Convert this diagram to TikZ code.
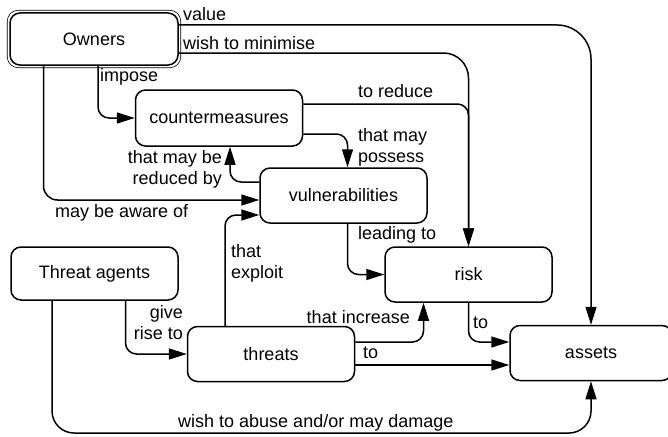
\documentclass[tikz,border=0pt]{standalone}
\usepackage{fontspec}
\setmainfont{Liberation Sans}
\usetikzlibrary{math}
\usetikzlibrary{arrows.meta}
\tikzset{
	box/.style={draw, line width=1.5pt, rounded corners=10pt, minimum width=167pt, minimum height=55pt, inner sep=0pt, font=\fontsize{18}{21}\selectfont},
	lbl/.style={inner sep=0pt, font=\fontsize{18}{21}\selectfont},
	link/.style={line width=1.5pt, rounded corners=11pt, -{Triangle[length=18pt,width=11pt]}},
}

\begin{document}
\begin{tikzpicture}[x=1pt,y=-1pt]
	\useasboundingbox (0,0) rectangle (668,436);
	\tikzmath{\ownx=94; \owny=39;
	\cmx=219; \cmy=118;
	\vulx=343.5; \vuly=195.5;
	\tax=94.5; \tay=273.5;
	\thrx=271; \thry=354;
	\riskx=468.5; \risky=274.5;
	\assx=591; \assy=353;
	}
	\node[box, minimum width=168pt, minimum height=52pt] (owners) at (\ownx,\owny) {Owners};
	\draw[line width=0.6pt, rounded corners=11pt] ([shift={(-2pt,2pt)}]owners.north west) rectangle ([shift={(2pt,-2pt)}]owners.south east);
	\node[box, minimum height=56pt] (cm) at (\cmx,\cmy) {countermeasures};
	\node[box] (vul) at (\vulx,\vuly) {vulnerabilities};
	\node[box, minimum height=53pt] (ta) at (\tax,\tay) {Threat agents};
	\node[box] (thr) at (\thrx,\thry) {threats};
	\node[box] (risk) at (\riskx,\risky) {risk};
	\node[box, minimum width=162pt] (assets) at (\assx,\assy) {assets};
	\coordinate (low) at (320,433);
	\node[lbl, anchor=west] (lvalue) at (183,14) {value};
	\node[lbl, anchor=west] (lmin) at (183,43) {wish to minimise};
	\node[lbl, anchor=west] (limpose) at (100,77) {impose};
	\node[lbl, anchor=west] (lreduce) at (358,91) {to reduce};
	\node[lbl, anchor=west, align=left] (lpossess) at (358,147) {that may\\possess};
	\node[lbl, anchor=east, align=right] (lreduced) at (222,169) {that may be\\reduced by};
	\node[lbl, anchor=west] (laware) at (55,213) {may be aware of};
	\node[lbl, anchor=west, align=left] (lexploit) at (231,263) {that\\exploit};
	\node[lbl, anchor=west] (lleading) at (358,235) {leading to};
	\node[lbl, anchor=east] (lincrease) at (410,317) {that increase};
	\node[lbl, anchor=west] (ltothr) at (363,353) {to};
	\node[lbl, anchor=west] (ltorisk) at (473,323) {to};
	\node[lbl, anchor=east, align=right] (lgive) at (183,323) {give\\rise to};
	\node[lbl, anchor=west] (labuse) at (178,423) {wish to abuse and/or may damage};
	\draw[link, rounded corners=34pt] ([yshift=14pt]owners.east) -| (assets.north);
	\draw[link, rounded corners=25pt] ([yshift=-14pt]owners.east) -| (risk.north);
	\draw[link] ([yshift=14pt]cm.east) -| (risk.north);
	\draw[link] ([yshift=-16pt]cm.east) -| ([xshift=4pt]vul.north);
	\draw[link] ([yshift=13.5pt]vul.west) -| ([xshift=11pt]cm.south);
	\draw[link, rounded corners=14pt] ([xshift=-50.5pt]owners.south) |- ([yshift=-4.5pt]vul.west);
	\draw[link] ([xshift=4pt]owners.south) |- (cm.west);
	\draw[link] ([xshift=-46pt]thr.north) |- ([yshift=-19.5pt]vul.west);
	\draw[link] ([xshift=4pt]vul.south) |- (risk.west);
	\draw[link] ([yshift=12pt]thr.east) -| ([xshift=-45pt]risk.south);
	\draw[link] ([yshift=-11pt]thr.east) -- ([yshift=-11pt]thr.east -| assets.west);
	\draw[link] (risk.south) |- ([yshift=11pt]assets.west);
	\draw[link] ([xshift=31pt]ta.south) |- (thr.west);
	\draw[link, rounded corners=22pt] ([xshift=-42.5pt]ta.south) |- (low) -| (assets.south);
\end{tikzpicture}
\end{document}
